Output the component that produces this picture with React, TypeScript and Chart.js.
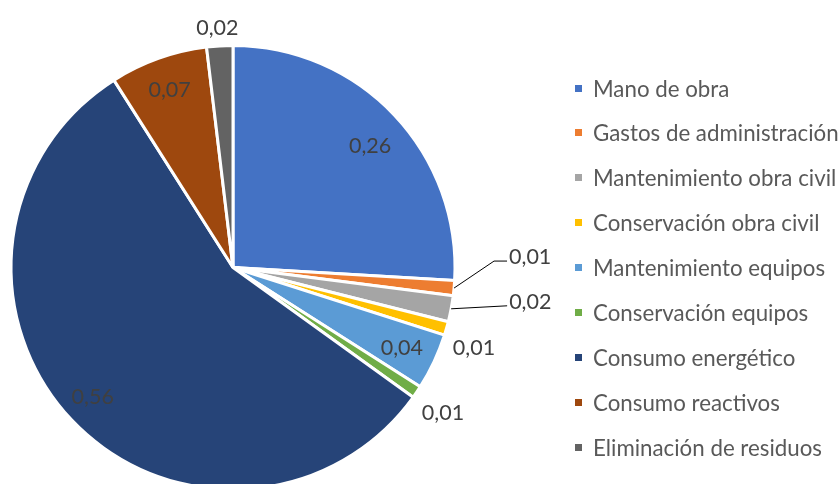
import React, { useEffect, useRef } from "react";
import { Chart, registerables } from "chart.js";

Chart.register(...registerables);

const categories = [
  "Mano de obra",
  "Gastos de administración",
  "Mantenimiento obra civil",
  "Conservación obra civil",
  "Mantenimiento equipos",
  "Conservación equipos",
  "Consumo energético",
  "Consumo reactivos",
  "Eliminación de residuos",
];
const values = [0.259, 0.011, 0.019, 0.010, 0.041, 0.009, 0.560, 0.071, 0.019];
const colors = [
  "#4472C4",
  "#ED7D31",
  "#A5A5A5",
  "#FFC000",
  "#5B9BD5",
  "#70AD47",
  "#264478",
  "#9E480E",
  "#636363",
];

// label placement styles (radius multiples / angle shifts in degrees / leader offsets)
type Place = { dist: number; shift?: number; lead?: number[][] };
const placements: Place[] = [
  { dist: 0.825, shift: 1.8 },
  { dist: 1.0, lead: [[40, -27], [53, -27]] },
  { dist: 1.0, lead: [[56, -3]] },
  { dist: 1.145, shift: 2.6 },
  { dist: 0.843, shift: 0.4 },
  { dist: 1.151, shift: 0.6 },
  { dist: 0.859, shift: 0.7 },
  { dist: 0.85 },
  { dist: 1.081, shift: -0.3 },
];

const FONT = "Lato, 'Open Sans', sans-serif";
const LABEL_SIZE = 21.5;
const LEGEND_SIZE = 22.3;

const labelPlugin = {
  id: "pieLabels",
  afterDatasetsDraw(chart: any) {
    const ctx = chart.ctx;
    const meta = chart.getDatasetMeta(0);
    ctx.save();
    ctx.font = `${LABEL_SIZE}px ${FONT}`;
    ctx.fillStyle = "#404040";
    ctx.textBaseline = "middle";
    meta.data.forEach((arc: any, i: number) => {
      const p = placements[i];
      const { x, y, startAngle, endAngle, outerRadius } = arc.getProps(
        ["x", "y", "startAngle", "endAngle", "outerRadius"],
        true
      );
      const mid = (startAngle + endAngle) / 2 + ((p.shift || 0) * Math.PI) / 180;
      const text = values[i].toFixed(2).replace(".", ",");
      if (p.lead) {
        const ex = x + Math.cos(mid) * outerRadius;
        const ey = y + Math.sin(mid) * outerRadius;
        ctx.strokeStyle = "#000000";
        ctx.lineWidth = 1;
        ctx.beginPath();
        ctx.moveTo(ex, ey);
        let lx = ex, ly = ey;
        p.lead.forEach(([dx, dy]) => {
          lx = ex + dx;
          ly = ey + dy;
          ctx.lineTo(lx, ly);
        });
        ctx.stroke();
        ctx.textAlign = "left";
        ctx.fillText(text, lx + 2, ly - 4);
      } else {
        const r = outerRadius * p.dist;
        ctx.textAlign = "center";
        ctx.fillText(text, x + Math.cos(mid) * r, y + Math.sin(mid) * r);
      }
    });
    ctx.restore();
  },
};

export default function App() {
  const ref = useRef<HTMLCanvasElement>(null);
  useEffect(() => {
    if (!ref.current) return;
    const chart = new Chart(ref.current, {
      type: "pie",
      data: {
        labels: categories,
        datasets: [
          {
            data: values,
            backgroundColor: colors,
            borderColor: "#ffffff",
            borderWidth: 3,
          },
        ],
      },
      options: {
        responsive: false,
        animation: false,
        radius: 222,
        layout: { padding: { left: 11, top: 45.5, right: 384, bottom: 10.5 } },
        plugins: {
          legend: { display: false },
          tooltip: { enabled: false },
        },
      } as any,
      plugins: [labelPlugin],
    });
    return () => chart.destroy();
  }, []);

  return (
    <div
      style={{
        position: "absolute",
        left: 0,
        top: 0,
        width: 839,
        height: 484,
        overflow: "hidden",
        background: "#ffffff",
      }}
    >
      <canvas ref={ref} width={839} height={500} style={{ display: "block" }} />
      {categories.map((c, i) => (
        <div
          key={c}
          style={{
            position: "absolute",
            left: 575,
            top: 88 + i * 44.9 - 15,
            height: 30,
            display: "flex",
            alignItems: "center",
            whiteSpace: "nowrap",
            fontFamily: FONT,
            fontSize: LEGEND_SIZE,
            color: "#595959",
          }}
        >
          <span
            style={{
              display: "inline-block",
              width: 7,
              height: 7,
              background: colors[i],
              marginRight: 11,
            }}
          />
          {c}
        </div>
      ))}
    </div>
  );
}
